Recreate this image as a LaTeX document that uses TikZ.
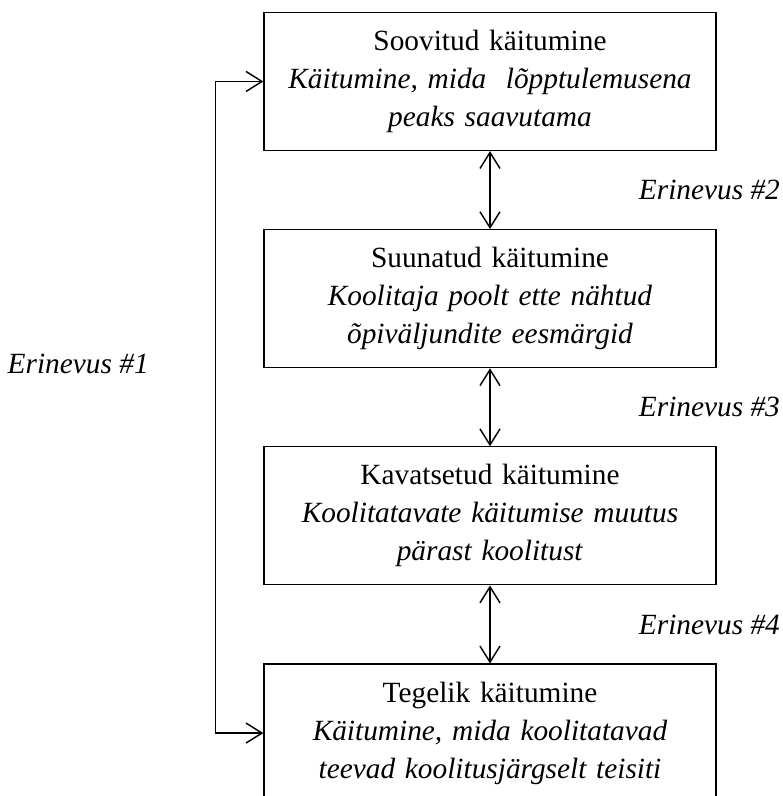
\documentclass[tikz,border=0pt]{standalone}
\usepackage{fontspec}
\setmainfont{Liberation Serif}
\usepackage{tikz}
\usetikzlibrary{calc,arrows.meta,positioning}

\begin{document}
\begin{tikzpicture}[
  line width=1.1pt,
  >={Straight Barb[length=12pt,width=15pt,line width=1.1pt]},
  node distance=58.5pt,
  kbox/.style={
    draw,
    line width=0.9pt,
    rectangle,
    inner sep=0pt,
    text width=339pt,
    minimum height=103.5pt,
    align=center,
    font=\fontsize{22}{28.5}\selectfont
    },
  erin/.style={
    inner sep=0pt,
    font=\fontsize{22}{26}\selectfont\itshape
    }
]

% picture frame
\useasboundingbox (-367.5pt,61.1pt) rectangle ++(586.5pt,-597pt);

\node[kbox]
  (soovitud) at (0,0)
  {Soovitud käitumine\\
   \textit{Käitumine, mida \ lõpptulemusena}\\
   \textit{peaks saavutama}};
\node[kbox, below=of soovitud]
  (suunatud)
  {Suunatud käitumine\\
   \textit{Koolitaja poolt ette nähtud}\\
   \textit{õpiväljundite eesmärgid}};
\node[kbox, below=of suunatud]
  (kavatsetud)
  {Kavatsetud käitumine\\
   \textit{Koolitatavate käitumise muutus}\\
   \textit{pärast koolitust}};
\node[kbox, below=of kavatsetud]
  (tegelik)
  {Tegelik käitumine\\
   \textit{Käitumine, mida koolitatavad}\\
   \textit{teevad koolitusjärgselt teisiti}};

\draw[<->] (soovitud) -- (suunatud);
\draw[<->] (suunatud) -- (kavatsetud);
\draw[<->] (kavatsetud) -- (tegelik);

\coordinate (vasak) at ([xshift=-36pt]soovitud.west);
\draw[<->] (soovitud.west) -- (vasak) -- (vasak |- tegelik.west) -- (tegelik.west);

\node[erin, anchor=east] (erin2) at ($(soovitud.south east)!0.5!(suunatud.north east)+(48pt,0)$) {Erinevus \#2};
\node[erin, anchor=east] (erin3) at ($(suunatud.south east)!0.5!(kavatsetud.north east)+(48pt,0)$) {Erinevus \#3};
\node[erin, anchor=east] (erin4) at ($(kavatsetud.south east)!0.5!(tegelik.north east)+(48pt,0)$) {Erinevus \#4};
\node[erin, anchor=east] (erin1) at ([xshift=-49.5pt,yshift=3pt]vasak |- suunatud.south) {Erinevus \#1};

\end{tikzpicture}
\end{document}
